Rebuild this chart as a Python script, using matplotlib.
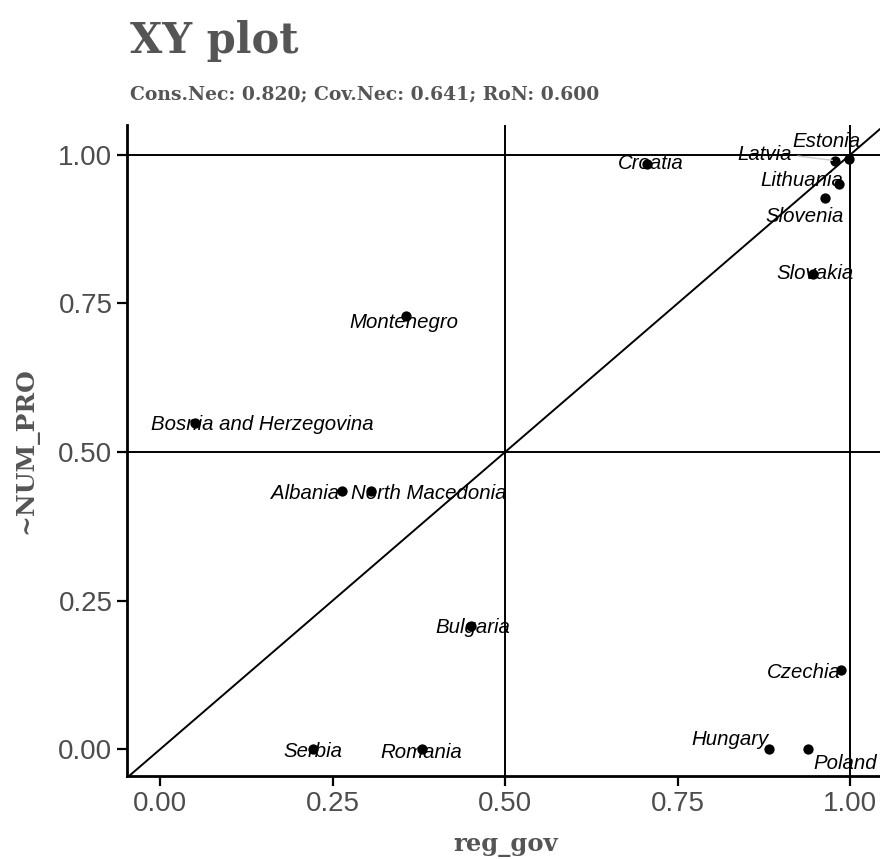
import matplotlib
matplotlib.use("Agg")
import matplotlib.pyplot as plt

countries = ["Croatia", "Latvia", "Estonia", "Lithuania", "Slovenia", "Slovakia",
             "Montenegro", "Bosnia and Herzegovina", "Albania", "North Macedonia",
             "Bulgaria", "Czechia", "Hungary", "Poland", "Serbia", "Romania"]
reg_gov = [0.706, 0.978, 0.999, 0.984, 0.964, 0.946,
           0.357, 0.051, 0.264, 0.306,
           0.451, 0.986, 0.883, 0.939, 0.222, 0.380]
not_num_pro = [0.985, 0.990, 0.993, 0.951, 0.928, 0.800,
               0.728, 0.548, 0.434, 0.434,
               0.207, 0.133, 0.0, 0.0, 0.0, 0.0]
ticks = [0.0, 0.25, 0.5, 0.75, 1.0]
tick_labels = ["0.00", "0.25", "0.50", "0.75", "1.00"]

# label offsets (pixels), like ggrepel placed them
offsets = {
    "Croatia": (3, 0), "Latvia": (-70, 6), "Estonia": (-23, 17),
    "Lithuania": (-37, 3), "Slovenia": (-21, -19), "Slovakia": (2, 0),
    "Montenegro": (-3, -6), "Bosnia and Herzegovina": (67, -1),
    "Albania": (-37, -2), "North Macedonia": (57, -2), "Bulgaria": (1, -1),
    "Czechia": (-37, -2), "Hungary": (-39, 10), "Poland": (37, -14),
    "Serbia": (0, -2), "Romania": (-1, -3),
}

gray = "#555555"
serif = "DejaVu Serif"
fig = plt.figure(figsize=(8.8, 8.59), dpi=100)
ax = fig.add_axes([127 / 880, 83 / 859, 757 / 880, 651 / 859])

ax.set_xlim(-0.048, 1.049)
ax.set_ylim(-0.045, 1.05)

for v in [0.5, 1.0]:
    ax.axhline(v, color="black", lw=1.4, zorder=1)
    ax.axvline(v, color="black", lw=1.4, zorder=1)
ax.axline((0, 0), (1, 1), color="black", lw=1.4, zorder=1)

ax.scatter(reg_gov, not_num_pro, s=55, color="black", zorder=3, linewidths=0)

# faint connector for Latvia
ax.annotate("", (0.978, 0.990), xytext=(-40, 5), textcoords="offset pixels",
            arrowprops=dict(arrowstyle="-", color="#cccccc", lw=1))

for name, x, y in zip(countries, reg_gov, not_num_pro):
    dx, dy = offsets[name]
    ax.annotate(name, (x, y), xytext=(dx, dy), textcoords="offset pixels",
                ha="center", va="center", fontsize=14.7, style="italic",
                family="Liberation Sans", zorder=4)

ax.set_xticks(ticks)
ax.set_xticklabels(tick_labels)
ax.set_yticks(ticks)
ax.set_yticklabels(tick_labels)
ax.tick_params(labelsize=20, labelcolor="#4d4d4d", length=7, width=1.6,
               color="black", direction="out")
for lab in ax.get_xticklabels() + ax.get_yticklabels():
    lab.set_family("Liberation Sans")

for s in ["top", "right"]:
    ax.spines[s].set_visible(False)
for s in ["left", "bottom"]:
    ax.spines[s].set_linewidth(2)

ax.set_xlabel("reg_gov", family=serif, fontweight="bold",
              fontsize=17.5, color=gray, labelpad=12)
ax.set_ylabel("~NUM_PRO", family=serif, fontweight="bold",
              fontsize=18, color=gray, labelpad=14)

fig.text(130 / 880, 1 - 53 / 859, "XY plot", family=serif,
         fontweight="bold", fontsize=30, color=gray)
fig.text(130 / 880, 1 - 99 / 859, "Cons.Nec: 0.820; Cov.Nec: 0.641; RoN: 0.600",
         family=serif, fontweight="bold", fontsize=13.5, color=gray)

fig.savefig("out.png", dpi=100)
